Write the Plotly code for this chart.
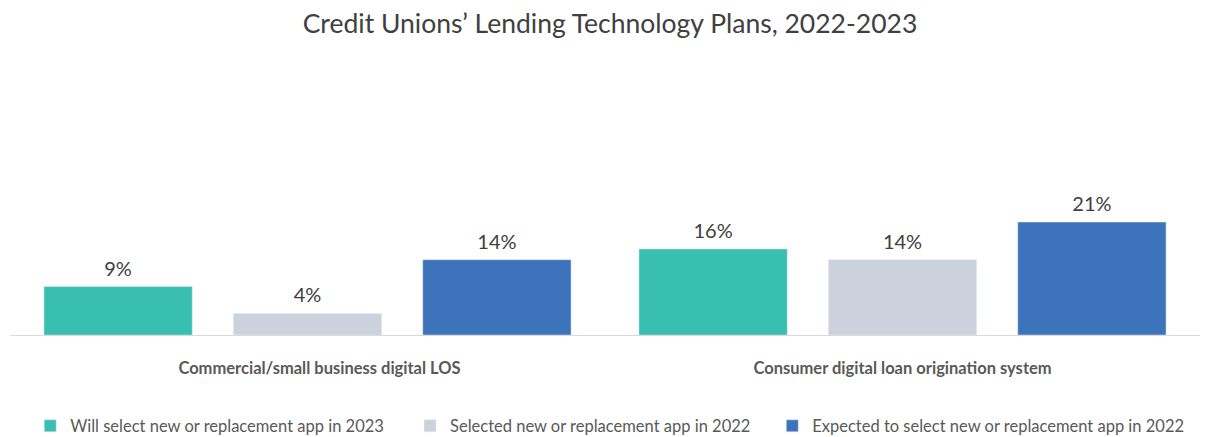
import plotly.graph_objects as go

categories = ["Commercial/small business digital LOS", "Consumer digital loan origination system"]
tick_labels = ["\u00a0" * 6 + "Commercial/small business digital LOS", "Consumer digital loan origination system"]
series_names = [
    "Will select new or replacement app in 2023",
    "Selected new or replacement app in 2022",
    "Expected to select new or replacement app in 2022",
]
series_values = [
    [9, 16],
    [4, 14],
    [14, 21],
]
colors = ["#38BFAF", "#CBD2DC", "#3D73BA"]

pads = ["\u00a0" * 5, "\u00a0" * 4, ""]
fig = go.Figure()
for i, (name, vals, col) in enumerate(zip(series_names, series_values, colors)):
    fig.add_trace(go.Bar(
        x=categories, y=vals, name=name + pads[i], marker_color=col,
        offsetgroup=str(i), alignmentgroup="a",
    ))
for i, vals in enumerate(series_values):
    fig.add_trace(go.Scatter(
        x=categories, y=vals, mode="markers+text",
        offsetgroup=str(i), alignmentgroup="a",
        marker=dict(size=8, opacity=0), showlegend=False, hoverinfo="skip",
        text=[f"{v}%" for v in vals], textposition="top center",
        textfont=dict(family="Lato", size=20, color="#404040"),
        cliponaxis=False,
    ))

fig.update_layout(
    width=1207, height=437,
    paper_bgcolor="white", plot_bgcolor="white",
    margin=dict(l=10, r=7, t=80, b=102, autoexpand=False),
    barmode="group", bargap=0.045, bargroupgap=0.217,
    scattermode="group", scattergap=0.045,
    title=dict(text="Credit Unions’ Lending Technology Plans, 2022-2023",
               xref="container", x=0.5054, xanchor="center", y=0.945, yanchor="middle",
               font=dict(family="Lato", size=26.5, color="#404040")),
    xaxis=dict(showline=True, linecolor="#D9D9D9", linewidth=1, automargin=False,
               showgrid=False, ticks="", ticklabelstandoff=18,
               tickmode="array", tickvals=categories, ticktext=tick_labels,
               tickfont=dict(family="Lato", size=16.5, color="#595959", weight="bold")),
    yaxis=dict(range=[0, 47.4], visible=False, showgrid=False, automargin=False),
    legend=dict(orientation="h", x=0.017, xanchor="left",
                yref="container", y=0.025, yanchor="middle",
                font=dict(family="Lato", size=16.5, color="#595959"),
                traceorder="normal"),
    font=dict(family="Lato"),
)
fig.write_html("out.html", post_script="document.body.style.margin='0';",
               config={"displayModeBar": False})
